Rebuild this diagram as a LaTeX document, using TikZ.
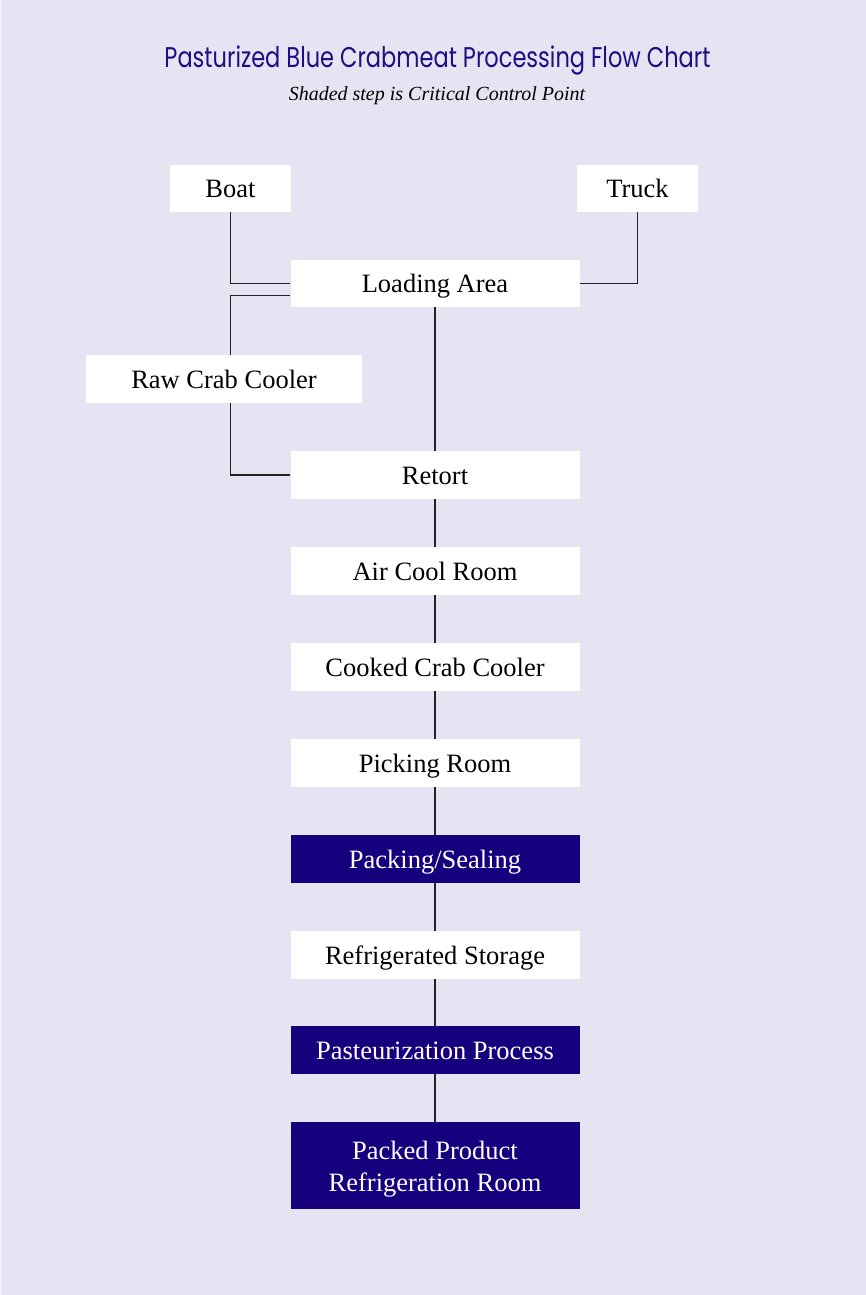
\documentclass[tikz,border=0pt]{standalone}
\usepackage{fontspec}
\setmainfont{Liberation Serif}
\newfontfamily\titlefont{Poppins}
\definecolor{pagebg}{HTML}{E6E4F2}
\definecolor{edgebg}{HTML}{F1F0F8}
\definecolor{ccpblue}{HTML}{16007E}
\definecolor{titleblue}{HTML}{1C0F82}
\definecolor{linegray}{HTML}{222222}
\begin{document}
\begin{tikzpicture}[x=1pt,y=-1pt,
  boxbase/.style={rectangle, fill=white, inner sep=0pt, minimum width=289pt,
    minimum height=48pt, font=\fontsize{26.5}{32}\selectfont, text=black, align=center},
  stepbox/.style={boxbase, text height=23pt, text depth=5pt},
  ccpbox/.style={stepbox, fill=ccpblue, text=white},
  link/.style={draw=linegray, line width=1.3pt}]
  % page
  \fill[pagebg] (0,0) rectangle (866,1295);
  \fill[edgebg] (0,0) rectangle (2,1295);
  \useasboundingbox (0,0) rectangle (866,1295);

  % heading
  \node[anchor=base, inner sep=0pt] (title) at (437.5,67.5)
    {\titlefont\fontsize{28.5}{32}\selectfont\color{titleblue}\scalebox{0.79}[1]{Pasturized Blue Crabmeat Processing Flow Chart}};
  \node[anchor=base, inner sep=0pt] (subtitle) at (437,101)
    {\fontsize{20}{24}\selectfont\itshape Shaded step is Critical Control Point};

  % steps
  \node[stepbox, minimum width=121pt, minimum height=47pt] (boat) at (230.5,188.5) {Boat};
  \node[stepbox, minimum width=121pt, minimum height=47pt] (truck) at (637.5,188.5) {Truck};
  \node[stepbox, minimum height=47pt] (loading) at (435,283.5) {Loading Area};
  \node[stepbox, minimum width=276pt] (raw) at (224,379) {Raw Crab Cooler};
  \node[stepbox] (retort) at (435,475) {Retort};
  \node[stepbox] (air) at (435,571) {Air Cool Room};
  \node[stepbox] (cooked) at (435,667) {Cooked Crab Cooler};
  \node[stepbox] (picking) at (435,763) {Picking Room};
  \node[ccpbox] (packing) at (435,859) {Packing/Sealing};
  \node[stepbox] (storage) at (435,955) {Refrigerated Storage};
  \node[ccpbox] (pasteur) at (435,1050) {Pasteurization Process};
  \node[boxbase, fill=ccpblue, text=white, minimum height=87pt] (packed) at (435,1165.5)
    {\raisebox{-4pt}[\height][\depth]{\begin{tabular}{@{}c@{}}Packed Product\\Refrigeration Room\end{tabular}}};

  % connectors
  \draw[link] (boat.south) |- (loading.west);
  \draw[link] (truck.south) |- (loading.east);
  \draw[link] ([yshift=-12pt]loading.west) -| (raw.north -| boat.south);
  \draw[link] (raw.south -| boat.south) |- (retort.west);
  \draw[link] (loading.south) -- (retort.north);
  \draw[link] (retort.south) -- (air.north);
  \draw[link] (air.south) -- (cooked.north);
  \draw[link] (cooked.south) -- (picking.north);
  \draw[link] (picking.south) -- (packing.north);
  \draw[link] (packing.south) -- (storage.north);
  \draw[link] (storage.south) -- (pasteur.north);
  \draw[link] (pasteur.south) -- (packed.north);
\end{tikzpicture}
\end{document}
